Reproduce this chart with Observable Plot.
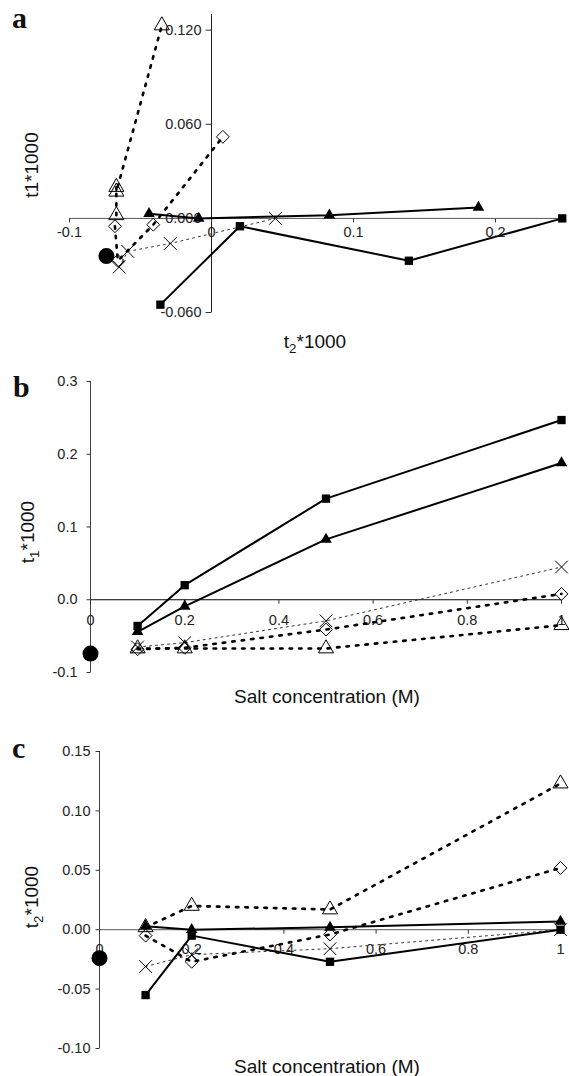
<!DOCTYPE html>
<html><head><meta charset="utf-8">
<script src="https://cdn.jsdelivr.net/npm/d3@7"></script>
<script src="https://cdn.jsdelivr.net/npm/@observablehq/plot@0.6"></script>
<style>
body{margin:0;background:#fff;}
#wrap{position:relative;width:569px;height:1076px;font-family:"Liberation Sans",Arial,sans-serif;}
#wrap svg{position:absolute;left:0;}
</style></head><body><div id="wrap"></div>
<script>
// ---------- data ----------
const salt = [0.1, 0.2, 0.5, 1.0];
// t1*1000 (panel b)
const t1Square       = [-0.036, 0.020, 0.139, 0.247];
const t1Triangle     = [-0.044, -0.009, 0.083, 0.188];
const t1OpenTriangle = [-0.067, -0.067, -0.067, -0.035];
const t1Diamond      = [-0.068, -0.066, -0.041, 0.008];
const t1Cross        = [-0.065, -0.059, -0.029, 0.045];
// t2*1000 (panel c)
const t2Square       = [-0.055, -0.005, -0.027, 0.000];
const t2Triangle     = [0.003, 0.000, 0.002, 0.007];
const t2OpenTriangle = [0.002, 0.020, 0.017, 0.123];
const t2Diamond      = [-0.005, -0.027, -0.004, 0.052];
const t2Cross        = [-0.031, -0.021, -0.016, 0.000];
// control (filled circle)
const controlSalt = 0;
const controlT1 = -0.074;
const controlT2 = -0.024;

// tick labels
const aXTicks = [-0.1, 0, 0.1, 0.2];
const aYTicks = [-0.06, 0, 0.06, 0.12];
const bXTicks = [0, 0.2, 0.4, 0.6, 0.8, 1];
const bYTicks = [-0.1, 0, 0.1, 0.2, 0.3];
const cXTicks = [0, 0.2, 0.4, 0.6, 0.8, 1];
const cYTicks = [-0.1, -0.05, 0, 0.05, 0.1, 0.15];
const aXDomain = [-0.1, 0.25], aYDomain = [-0.06, 0.13];
const bXDomain = [0, 1], bYDomain = [-0.1, 0.3];
const cXDomain = [0, 1], cYDomain = [-0.1, 0.15];

const seriesT1 = {square: t1Square, triangle: t1Triangle, openTriangle: t1OpenTriangle, diamond: t1Diamond, cross: t1Cross};
const seriesT2 = {square: t2Square, triangle: t2Triangle, openTriangle: t2OpenTriangle, diamond: t2Diamond, cross: t2Cross};
const seriesOrder = ["diamond", "openTriangle", "cross", "square", "triangle"];
const seriesData = {};
for (const k of seriesOrder) seriesData[k] = salt.map((s, i) => ({salt: s, t1: seriesT1[k][i], t2: seriesT2[k][i]}));
const control = [{salt: controlSalt, t1: controlT1, t2: controlT2}];

// ---------- styles ----------
const solid = {stroke: "#000", strokeWidth: 2};
const heavyDot = {stroke: "#000", strokeWidth: 2.6, strokeDasharray: "2.5,7"};
const lightDot = {stroke: "#333", strokeWidth: 1, strokeDasharray: "2,4"};
const styles = {
  square:       {line: solid,    dot: {symbol: "square", r: 4.7, fill: "#000", stroke: "none"}},
  triangle:     {line: solid,    dot: {symbol: "triangle", r: 4.3, fill: "#000", stroke: "none"}},
  openTriangle: {line: heavyDot, dot: {symbol: "triangle2", r: 7.2, fill: "none", stroke: "#000", strokeWidth: 1}},
  diamond:      {line: heavyDot, dot: {symbol: "diamond2", r: 5.8, fill: "none", stroke: "#000", strokeWidth: 1}},
  cross:        {line: lightDot, dot: {symbol: "times", r: 5.8, fill: "none", stroke: "#000", strokeWidth: 1}}
};
const tickDown = {draw(c) { c.moveTo(0, 0); c.lineTo(0, 4); }};
const tickLeft = (len) => ({draw(c) { c.moveTo(0, 0); c.lineTo(-len, 0); }});

function panel({xKey, yKey, xDomain, yDomain, xTicks, yTicks, xFmt, yFmt, height, margins, yTickLen, xLabelDy, yLabelDx, axisStroke}) {
  const marks = [
    Plot.ruleY([0], {stroke: axisStroke.x, strokeWidth: 1}),
    Plot.ruleX([0], {stroke: axisStroke.y, strokeWidth: 1}),
    Plot.dot(xTicks, {x: d => d, y: () => 0, symbol: tickDown, fill: "none", stroke: "#333", strokeWidth: 1}),
    Plot.dot(yTicks, {x: () => 0, y: d => d, symbol: tickLeft(yTickLen), fill: "none", stroke: "#333", strokeWidth: 1}),
    Plot.text(xTicks, {x: d => d, y: () => 0, text: xFmt, dy: xLabelDy, fontSize: 14.5, fill: "#222"}),
    Plot.text(yTicks, {x: () => 0, y: d => d, text: yFmt, dx: yLabelDx, textAnchor: "end", fontSize: 14.5, fill: "#222"})
  ];
  for (const k of seriesOrder) marks.push(Plot.line(seriesData[k], {x: xKey, y: yKey, ...styles[k].line}));
  for (const k of seriesOrder) marks.push(Plot.dot(seriesData[k], {x: xKey, y: yKey, ...styles[k].dot}));
  marks.push(Plot.dot(control, {x: xKey, y: yKey, r: 8, fill: "#000"}));
  return Plot.plot({
    width: 569, height,
    marginTop: margins[0], marginRight: margins[1], marginBottom: margins[2], marginLeft: margins[3],
    x: {domain: xDomain, axis: null},
    y: {domain: yDomain, axis: null},
    style: {fontFamily: "'Liberation Sans', Arial, sans-serif", background: "transparent", overflow: "visible"},
    marks
  });
}

function addText(svg, {x, y, rotate = 0, anchor = "middle", size = 19, parts, serif = false, bold = false}) {
  const t = d3.select(svg).append("text")
    .attr("transform", `translate(${x},${y}) rotate(${rotate})`)
    .attr("text-anchor", anchor)
    .attr("font-size", size)
    .attr("font-family", serif ? "'Liberation Serif', 'Times New Roman', serif" : "'Liberation Sans', Arial, sans-serif")
    .attr("font-weight", bold ? "bold" : "normal")
    .attr("fill", "#111");
  for (const p of parts) {
    const s = t.append("tspan").text(p.text);
    if (p.sub) s.attr("font-size", size * 0.7).attr("dy", 5);
    if (p.unsub) s.attr("dy", -5);
  }
}
const subTitle = (n) => [{text: "t"}, {text: n, sub: true}, {text: "*1000", unsub: true}];

const wrap = document.getElementById("wrap");

// Panel a
const svgA = panel({xKey: "t1", yKey: "t2", xDomain: aXDomain, yDomain: aYDomain, xTicks: aXTicks, yTicks: aYTicks,
  xFmt: d => String(d), yFmt: d => d.toFixed(3), height: 360, margins: [14, 3, 48, 69], yTickLen: 6,
  xLabelDy: 14, yLabelDx: -10, axisStroke: {x: "#555", y: "#222"}});
svgA.style.top = "0px";
wrap.appendChild(svgA);
addText(svgA, {x: 12, y: 28, anchor: "start", size: 30, serif: true, bold: true, parts: [{text: "a"}]});
addText(svgA, {x: 38, y: 165, rotate: -90, parts: [{text: "t1*1000"}]});
addText(svgA, {x: 315, y: 348, parts: subTitle("2")});

// Panel b
const svgB = panel({xKey: "salt", yKey: "t1", xDomain: bXDomain, yDomain: bYDomain, xTicks: bXTicks, yTicks: bYTicks,
  xFmt: d => String(d), yFmt: d => d.toFixed(1), height: 350, margins: [21, 8, 38, 90], yTickLen: 4,
  xLabelDy: 21, yLabelDx: -13, axisStroke: {x: "#000", y: "#444"}});
svgB.style.top = "360px";
wrap.appendChild(svgB);
addText(svgB, {x: 13, y: 37, anchor: "start", size: 30, serif: true, bold: true, parts: [{text: "b"}]});
addText(svgB, {x: 34, y: 172, rotate: -90, parts: subTitle("1")});
addText(svgB, {x: 327, y: 343, parts: [{text: "Salt concentration (M)"}]});

// Panel c
const svgC = panel({xKey: "salt", yKey: "t2", xDomain: cXDomain, yDomain: cYDomain, xTicks: cXTicks, yTicks: cYTicks,
  xFmt: d => String(d), yFmt: d => d.toFixed(2), height: 366, margins: [41, 9, 28, 99], yTickLen: 4,
  xLabelDy: 20, yLabelDx: -9, axisStroke: {x: "#555", y: "#444"}});
svgC.style.top = "710px";
wrap.appendChild(svgC);
addText(svgC, {x: 12, y: 48, anchor: "start", size: 30, serif: true, bold: true, parts: [{text: "c"}]});
addText(svgC, {x: 38, y: 187, rotate: -90, parts: subTitle("2")});
addText(svgC, {x: 327, y: 363, parts: [{text: "Salt concentration (M)"}]});
</script>
</body></html>
